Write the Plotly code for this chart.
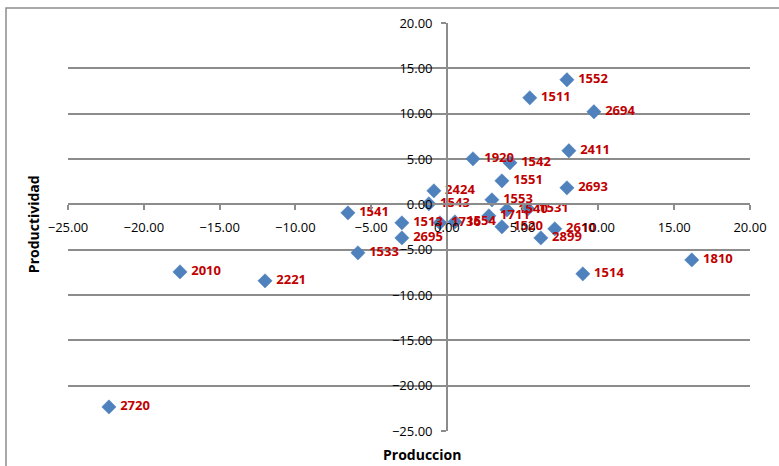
import plotly.graph_objects as go

labels = ["1552", "1511", "2694", "2411", "1920", "1542", "1551", "2693", "2424", "1543",
          "1553", "1541", "1540", "1531", "1711", "1513", "1736", "1554", "1520", "2610",
          "2899", "2695", "1533", "2010", "2221", "2720", "1514", "1810"]
produccion = [7.92, 5.47, 9.70, 8.05, 1.72, 4.16, 3.63, 7.92, -0.86, -1.19,
              2.97, -6.53, 3.96, 5.34, 2.77, -2.97, -0.46, 0.53, 3.63, 7.12,
              6.20, -2.97, -5.87, -17.61, -12.00, -22.30, 8.97, 16.16]
productividad = [13.74, 11.75, 10.21, 5.91, 5.02, 4.58, 2.59, 1.82, 1.49, 0.06,
                 0.50, -0.94, -0.61, -0.50, -1.27, -2.04, -2.04, -1.93, -2.48, -2.70,
                 -3.70, -3.70, -5.35, -7.45, -8.44, -22.35, -7.67, -6.13]

x_range = [-25, 20]
y_range = [-25, 20]
tick_step = 5

GRID = "#8c8c8c"
FONT = "Open Sans"

fig = go.Figure()
fig.add_trace(go.Scatter(
    x=produccion, y=productividad, mode="markers+text",
    text=["\u00a0" + t for t in labels], textposition="middle right",
    textfont=dict(family=FONT, size=13, color="#C00000", weight="bold"),
    marker=dict(symbol="diamond", size=11, color="#4F81BD",
                line=dict(color="#4A7EBB", width=0.5)),
    cliponaxis=False, hoverinfo="skip", showlegend=False,
))

pos_x = (0 - x_range[0]) / (x_range[1] - x_range[0])
pos_y = (0 - y_range[0]) / (y_range[1] - y_range[0])

fig.update_layout(
    width=779, height=466,
    margin=dict(l=68, r=29, t=23, b=35),
    paper_bgcolor="white", plot_bgcolor="white",
    font=dict(family=FONT, size=13, color="black"),
    xaxis=dict(range=x_range, dtick=tick_step, tick0=0, tickformat=".2f",
               anchor="free", position=pos_y, showline=True, linecolor=GRID,
               linewidth=1.5, ticks="outside", ticklen=5, tickcolor=GRID,
               tickwidth=1.5, showgrid=False, zeroline=False,
               ticklabelstandoff=6, tickfont=dict(family=FONT, size=13)),
    yaxis=dict(range=y_range, dtick=tick_step, tick0=0, tickformat=".2f",
               anchor="free", position=pos_x, showline=True, linecolor=GRID,
               linewidth=1.5, ticks="outside", ticklen=5, tickcolor=GRID,
               tickwidth=1.5, showgrid=True, gridcolor=GRID, gridwidth=1.5,
               zeroline=False, ticklabelstandoff=6,
               tickfont=dict(family=FONT, size=13)),
    annotations=[
        dict(text="<b>Produccion</b>", x=0.519, y=-0.0588, xref="paper", yref="paper",
             showarrow=False, font=dict(family=FONT, size=14), xanchor="center", yanchor="middle"),
        dict(text="<b>Productividad</b>", x=-0.0513, y=0.507, xref="paper", yref="paper",
             showarrow=False, textangle=-90, font=dict(family=FONT, size=14),
             xanchor="center", yanchor="middle"),
    ],
    shapes=[
        dict(type="rect", xref="paper", yref="paper", x0=-0.0909, x1=1.1, y0=-0.3, y1=1.0368,
             line=dict(color=GRID, width=1.5), fillcolor="rgba(0,0,0,0)", layer="below"),
    ],
)

fig.write_html("out.html", config={"displayModeBar": False},
               post_script="document.body.style.margin='0';document.body.style.overflow='hidden';")
